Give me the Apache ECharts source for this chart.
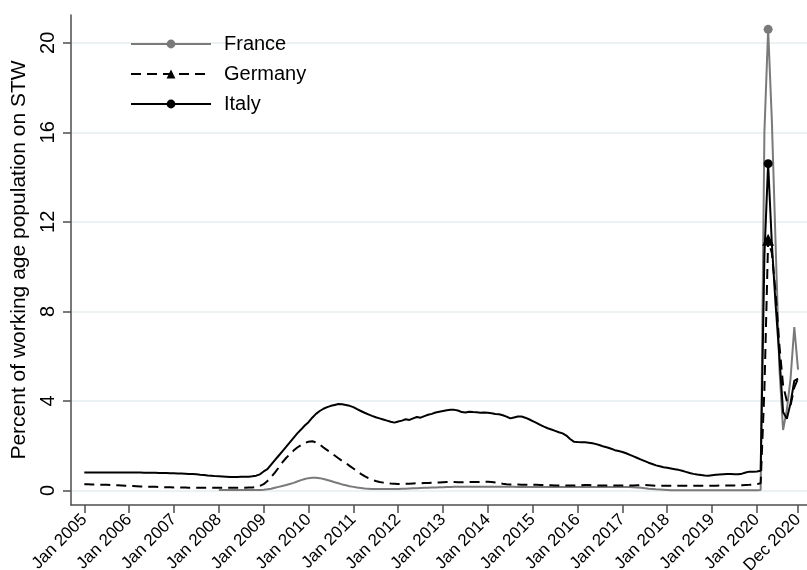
<!DOCTYPE html>
<html>
<head>
<meta charset="utf-8">
<script src="https://cdn.jsdelivr.net/npm/echarts@6/dist/echarts.min.js"></script>
<style>
  html, body { margin: 0; padding: 0; background: #fff; }
  #chart { width: 807px; height: 570px; }
</style>
</head>
<body>
<div id="chart"></div>
<script>
// Monthly index: 0 = Jan 2005 ... 191 = Dec 2020
const tickMonths = [0, 12, 24, 36, 48, 60, 72, 84, 96, 108, 120, 132, 144, 156, 168, 180, 191];
const tickLabels = ['Jan 2005', 'Jan 2006', 'Jan 2007', 'Jan 2008', 'Jan 2009', 'Jan 2010',
  'Jan 2011', 'Jan 2012', 'Jan 2013', 'Jan 2014', 'Jan 2015', 'Jan 2016', 'Jan 2017',
  'Jan 2018', 'Jan 2019', 'Jan 2020', 'Dec 2020'];
const yTicks = [0, 4, 8, 12, 16, 20];

const countries = ['France', 'Germany', 'Italy'];

// Share of working age population on short-time work (%), monthly
const italyStart = 0;     // Jan 2005
const italy = [
  0.80, 0.80, 0.80, 0.80, 0.80, 0.80, 0.80, 0.80, 0.80, 0.80, 0.80, 0.80,
  0.80, 0.80, 0.80, 0.80, 0.79, 0.79, 0.79, 0.79, 0.78, 0.78, 0.78, 0.77,
  0.77, 0.76, 0.76, 0.75, 0.74, 0.73, 0.72, 0.70, 0.69, 0.67, 0.66, 0.64,
  0.63, 0.62, 0.61, 0.60, 0.60, 0.60, 0.61, 0.61, 0.61, 0.63, 0.66, 0.72,
  0.85, 0.95, 1.15, 1.35, 1.55, 1.75, 1.95, 2.15, 2.35, 2.55, 2.72, 2.90,
  3.05, 3.25, 3.42, 3.55, 3.65, 3.72, 3.78, 3.82, 3.86, 3.85, 3.82, 3.78,
  3.72, 3.63, 3.55, 3.47, 3.40, 3.33, 3.27, 3.22, 3.17, 3.12, 3.07, 3.03,
  3.08, 3.12, 3.18, 3.15, 3.22, 3.28, 3.25, 3.32, 3.38, 3.42, 3.48, 3.52,
  3.55, 3.58, 3.60, 3.60, 3.57, 3.50, 3.48, 3.52, 3.50, 3.49, 3.47, 3.48,
  3.47, 3.45, 3.42, 3.40, 3.36, 3.30, 3.22, 3.26, 3.30, 3.30, 3.25, 3.18,
  3.10, 3.02, 2.93, 2.85, 2.78, 2.72, 2.66, 2.60, 2.55, 2.45, 2.30, 2.18,
  2.16, 2.15, 2.15, 2.13, 2.11, 2.07, 2.02, 1.96, 1.92, 1.86, 1.80, 1.76,
  1.72, 1.66, 1.59, 1.52, 1.45, 1.38, 1.31, 1.24, 1.18, 1.12, 1.08, 1.04,
  1.01, 0.98, 0.95, 0.92, 0.88, 0.83, 0.78, 0.74, 0.71, 0.69, 0.67, 0.66,
  0.68, 0.70, 0.71, 0.72, 0.73, 0.73, 0.72, 0.72, 0.75, 0.80, 0.84, 0.84,
  0.85, 0.88, 10.5, 14.6, 11.0, 8.3, 6.0, 3.5, 3.2, 3.9, 4.9, 5.0
];

const germanyStart = 0;   // Jan 2005
const germany = [
  0.28, 0.28, 0.27, 0.27, 0.26, 0.26, 0.25, 0.24, 0.24, 0.23, 0.22, 0.21,
  0.20, 0.20, 0.19, 0.18, 0.18, 0.17, 0.16, 0.16, 0.15, 0.15, 0.14, 0.14,
  0.13, 0.13, 0.13, 0.13, 0.12, 0.12, 0.12, 0.12, 0.12, 0.12, 0.12, 0.12,
  0.12, 0.12, 0.12, 0.12, 0.12, 0.12, 0.12, 0.12, 0.13, 0.13, 0.15, 0.20,
  0.28, 0.42, 0.60, 0.80, 1.02, 1.25, 1.45, 1.62, 1.78, 1.92, 2.03, 2.12,
  2.18, 2.20, 2.15, 2.05, 1.92, 1.80, 1.68, 1.56, 1.44, 1.32, 1.22, 1.10,
  0.98, 0.86, 0.74, 0.64, 0.55, 0.48, 0.42, 0.38, 0.35, 0.33, 0.31, 0.30,
  0.29, 0.29, 0.30, 0.30, 0.31, 0.32, 0.32, 0.33, 0.33, 0.34, 0.35, 0.36,
  0.37, 0.38, 0.38, 0.38, 0.37, 0.37, 0.37, 0.38, 0.38, 0.38, 0.38, 0.39,
  0.39, 0.38, 0.36, 0.33, 0.30, 0.28, 0.27, 0.27, 0.27, 0.26, 0.26, 0.26,
  0.25, 0.25, 0.24, 0.24, 0.23, 0.23, 0.22, 0.22, 0.22, 0.22, 0.22, 0.22,
  0.22, 0.23, 0.24, 0.24, 0.23, 0.22, 0.22, 0.22, 0.22, 0.22, 0.22, 0.22,
  0.22, 0.22, 0.22, 0.22, 0.23, 0.24, 0.24, 0.23, 0.22, 0.21, 0.21, 0.21,
  0.21, 0.21, 0.21, 0.21, 0.21, 0.21, 0.21, 0.21, 0.21, 0.21, 0.21, 0.21,
  0.21, 0.21, 0.22, 0.22, 0.22, 0.22, 0.22, 0.22, 0.23, 0.24, 0.25, 0.27,
  0.28, 0.32, 4.5, 11.2, 10.6, 8.8, 6.5, 4.7, 4.0, 3.8, 4.6, 5.0
];

const franceStart = 36;   // Jan 2008
const france = [
  0.02, 0.02, 0.02, 0.02, 0.02, 0.02, 0.02, 0.02, 0.02, 0.02, 0.02, 0.02,
  0.03, 0.05, 0.08, 0.12, 0.16, 0.20, 0.24, 0.29, 0.34, 0.40, 0.46, 0.51,
  0.55, 0.57, 0.57, 0.55, 0.51, 0.47, 0.42, 0.37, 0.32, 0.27, 0.23, 0.19,
  0.16, 0.13, 0.11, 0.09, 0.08, 0.07, 0.06, 0.06, 0.06, 0.06, 0.06, 0.07,
  0.07, 0.08, 0.08, 0.09, 0.10, 0.10, 0.11, 0.12, 0.12, 0.13, 0.13, 0.14,
  0.14, 0.15, 0.15, 0.16, 0.16, 0.16, 0.17, 0.17, 0.17, 0.17, 0.17, 0.17,
  0.17, 0.17, 0.17, 0.16, 0.16, 0.16, 0.16, 0.16, 0.15, 0.15, 0.15, 0.15,
  0.15, 0.15, 0.15, 0.15, 0.15, 0.15, 0.15, 0.15, 0.15, 0.15, 0.15, 0.15,
  0.15, 0.15, 0.15, 0.15, 0.15, 0.15, 0.15, 0.15, 0.15, 0.15, 0.15, 0.15,
  0.15, 0.15, 0.15, 0.14, 0.13, 0.12, 0.10, 0.08, 0.07, 0.05, 0.04, 0.03,
  0.02, 0.01, 0.01, 0.01, 0.01, 0.01, 0.01, 0.01, 0.01, 0.01, 0.01, 0.01,
  0.01, 0.01, 0.01, 0.01, 0.01, 0.01, 0.01, 0.01, 0.01, 0.01, 0.01, 0.01,
  0.01, 0.02, 16.0, 20.6, 16.5, 11.0, 5.5, 2.7, 3.6, 5.0, 7.3, 5.4
];

const FONT = '"Liberation Sans", Arial, Helvetica, sans-serif';

function toPoints(values, start) {
  return values.map((v, i) => [start + i, v]);
}
function peakIndex(values) {
  let k = 0;
  values.forEach((v, i) => { if (v > values[k]) k = i; });
  return k;
}
function lineSeries(name, values, start, color, dash, symbol, markerSize) {
  const peak = peakIndex(values);
  return {
    name: name,
    type: 'line',
    data: toPoints(values, start),
    symbol: symbol,
    showSymbol: true,
    symbolSize: (val, params) => (params.dataIndex === peak ? markerSize : 0),
    itemStyle: { color: color },
    lineStyle: { color: color, width: 2, type: dash },
    emphasis: { disabled: true },
    animation: false
  };
}

const chart = echarts.init(document.getElementById('chart'), null, { renderer: 'canvas' });
const axisColor = '#4d4d4d';

chart.setOption({
  backgroundColor: '#ffffff',
  animation: false,
  grid: { left: 71, right: 0, top: 15, bottom: 65, containLabel: false, outerBoundsMode: 'none' },
  legend: {
    data: countries,
    orient: 'vertical',
    left: 125,
    top: 29,
    itemWidth: 80,
    itemHeight: 11,
    itemGap: 10,
    textStyle: { fontFamily: FONT, fontSize: 20, color: '#000', lineHeight: 20, padding: [0, 0, 0, 8] },
    selectedMode: false
  },
  xAxis: {
    type: 'value',
    min: -3.56,
    max: 193.4,
    axisLine: { show: true, onZero: false, lineStyle: { color: axisColor, width: 1.5 } },
    axisTick: { show: true, customValues: tickMonths, length: 8, lineStyle: { color: axisColor, width: 1.5 } },
    axisLabel: {
      customValues: tickMonths,
      formatter: (v) => tickLabels[tickMonths.indexOf(v)],
      rotate: 45,
      margin: 12,
      fontFamily: FONT,
      fontSize: 17,
      color: '#000'
    },
    splitLine: { show: false }
  },
  yAxis: {
    type: 'value',
    min: -0.65,
    max: 21.24,
    name: 'Percent of working age population on STW',
    nameLocation: 'middle',
    nameGap: 25,
    nameTextStyle: { fontFamily: FONT, fontSize: 21, color: '#000' },
    axisLine: { show: true, onZero: false, lineStyle: { color: axisColor, width: 1.5 } },
    axisTick: { show: true, customValues: yTicks, length: 8, lineStyle: { color: axisColor, width: 1.5 } },
    axisLabel: {
      customValues: yTicks,
      rotate: 90,
      margin: 13,
      fontFamily: FONT,
      fontSize: 20,
      color: '#000'
    },
    splitLine: { show: true, lineStyle: { color: '#e6edf0', width: 1.5 } }
  },
  series: [
    lineSeries('France', france, franceStart, '#7a7a7a', 'solid', 'circle', 9),
    lineSeries('Germany', germany, germanyStart, '#000000', [10, 6], 'triangle', 12),
    lineSeries('Italy', italy, italyStart, '#000000', 'solid', 'circle', 9)
  ]
});
</script>
</body>
</html>
